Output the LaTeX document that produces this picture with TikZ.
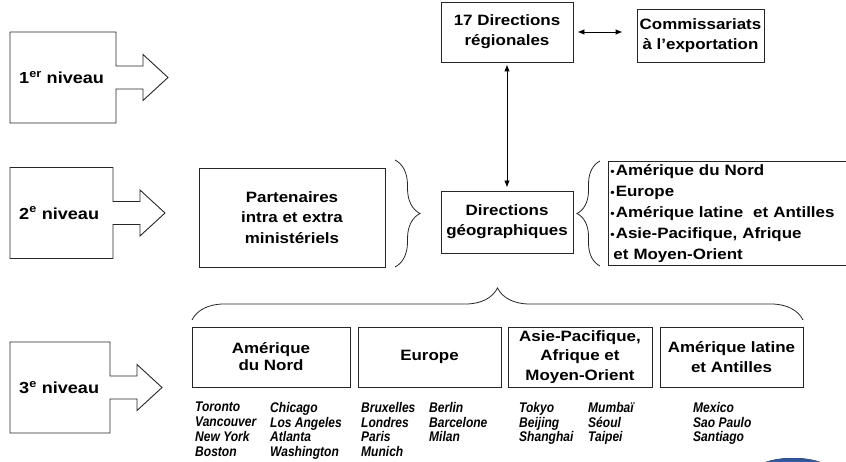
\documentclass[tikz,border=0pt]{standalone}
\usepackage{fontspec}
\setmainfont{Liberation Sans}[FakeStretch=1.13]
\newfontfamily\cityfont{Liberation Sans}[FakeStretch=0.86]
\usetikzlibrary{decorations.pathreplacing,arrows.meta}
\definecolor{logo blue}{rgb}{0.16, 0.31, 0.58}
\definecolor{logo light}{rgb}{0.70, 0.82, 0.94}
\newcommand\regionmark{{\fontsize{11}{11}\selectfont•}\hspace{1pt}}

\tikzset{
	box/.style={draw=black!85, line width=0.9pt, align=center, inner sep=0pt,
		font=\bfseries\fontsize{15}{20}\selectfont},
	level/.style={draw=black!85, line width=0.9pt},
	leveltext/.style={anchor=west, inner sep=0pt, font=\bfseries\fontsize{16}{18}\selectfont},
	cities/.style={anchor=north west, align=left, inner sep=0pt,
		font=\cityfont\bfseries\itshape\fontsize{14}{14.8}\selectfont},
	link/.style={line width=0.9pt, {Latex[length=7pt,width=5.5pt]}-{Latex[length=7pt,width=5.5pt]}},
	curly/.style={draw=black!85, line width=0.8pt, decorate}
}

\begin{document}
\begin{tikzpicture}[x=1pt, y=-1pt]
		\useasboundingbox (0, 0) rectangle (846, 462);
		% levels
		\foreach \cy/\r/\lbl [count=\i] in {77.5/116/{1\textsuperscript{er} niveau},
				213/113/{2\textsuperscript{e} niveau},
				387.5/110/{3\textsuperscript{e} niveau}} {
			\draw[level] (10, \cy-45.5) -- (\r, \cy-45.5) -- (\r, \cy-11.5)
				-- (\r+27, \cy-11.5) -- (\r+27, \cy-23) -- (\r+52, \cy)
				-- (\r+27, \cy+23) -- (\r+27, \cy+11.5) -- (\r, \cy+11.5)
				-- (\r, \cy+45.5) -- (10, \cy+45.5) -- cycle;
			\node[leveltext] (level\i) at (19, \cy) {\lbl};
		}
		% first level
		\node[box, minimum width=132, minimum height=60] (regional) at (507, 32)
			{17 Directions\\régionales};
		\node[box, minimum width=127, minimum height=53] (export) at (700.5, 35.5)
			{Commissariats\\à l’exportation};
		\draw[link, shorten <=4pt, shorten >=14pt] (regional.east) -- (regional.east -| export.west);
		% second level
		\node[box, minimum width=186, minimum height=99,
			font=\bfseries\fontsize{15}{20.5}\selectfont] (partners) at (292, 217.5)
			{Partenaires\\intra et extra\\ministériels};
		\node[box, minimum width=132, minimum height=62] (geo) at (507, 222)
			{Directions\\géographiques};
		\draw[link, shorten <=2pt, shorten >=3pt] (regional.south) -- (geo.north);
		\node[box, anchor=north west, align=left, text width=236, minimum height=104,
			inner xsep=2pt, font=\bfseries\fontsize{15}{21}\selectfont] (regions) at (608, 161)
			{\regionmark Amérique du Nord\\\regionmark Europe\\\regionmark Amérique latine\ \ et Antilles\\
			 \regionmark Asie-Pacifique, Afrique\\\hspace*{3pt}et Moyen-Orient};
		\draw[curly, decoration={brace, amplitude=25pt}] (395, 160) -- (395, 267);
		\draw[curly, decoration={brace, amplitude=23pt}] (600, 266) -- (600, 161);
		% third level
		\draw[curly, decoration={brace, amplitude=32pt}] (192, 320) -- (803, 320);
		\node[box, minimum width=158, minimum height=60,
			font=\bfseries\fontsize{15}{17}\selectfont] (nord) at (271, 357)
			{Amérique\\du Nord};
		\node[box, minimum width=143, minimum height=60] (europe) at (429.5, 357) {Europe};
		\node[box, minimum width=144, minimum height=60,
			font=\bfseries\fontsize{15}{19.5}\selectfont] (asie) at (580, 357)
			{Asie-Pacifique,\\Afrique et\\Moyen-Orient};
		\node[box, minimum width=143, minimum height=60,
			font=\bfseries\fontsize{15}{19.5}\selectfont] (latine) at (731.5, 357)
			{Amérique latine\\et Antilles};
		% cities
		\node[cities] (nord a) at (195, 402) {Toronto\\Vancouver\\New York\\Boston};
		\node[cities] (nord b) at (270, 402) {Chicago\\Los Angeles\\Atlanta\\Washington};
		\node[cities] (europe a) at (361, 402) {Bruxelles\\Londres\\Paris\\Munich};
		\node[cities] (europe b) at (429, 402) {Berlin\\Barcelone\\Milan};
		\node[cities] (asie a) at (519, 402) {Tokyo\\Beijing\\Shanghai};
		\node[cities] (asie b) at (588, 402) {Mumbaï\\Séoul\\Taipei};
		\node[cities] (latine a) at (693, 402) {Mexico\\Sao Paulo\\Santiago};
		% logo corner
		\fill[top color=logo blue, bottom color=logo light]
			(793, 473) ellipse [x radius=40, y radius=15];
	\end{tikzpicture}
\end{document}
